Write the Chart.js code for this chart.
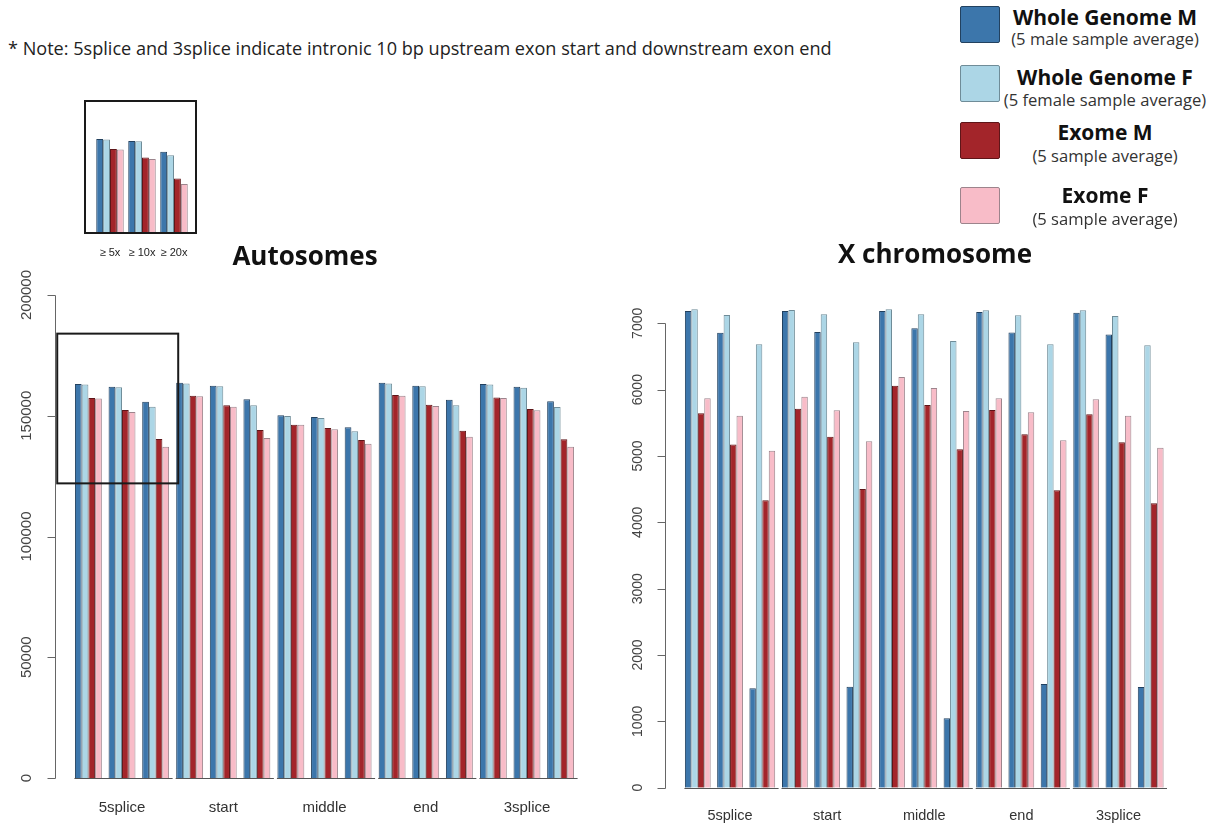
<!DOCTYPE html>
<html>
<head>
<meta charset="utf-8">
<script src="https://cdn.jsdelivr.net/npm/chart.js@4.4.1/dist/chart.umd.min.js"></script>
<style>
  html, body { margin: 0; padding: 0; }
  body { width: 1220px; height: 827px; background: #fff; position: relative; overflow: hidden;
         font-family: "Open Sans", "Noto Sans", sans-serif; }
  canvas { position: absolute; }
  .t { position: absolute; white-space: nowrap; transform: translate(-50%, -50%); }
  .note { position: absolute; left: 8px; top: 48px; transform: translateY(-50%); white-space: nowrap;
          font-size: 18.1px; color: #222; }
  .title { font-weight: 700; font-size: 26px; color: #111; }
  .lg { font-weight: 700; font-size: 21px; color: #111; }
  .ls { font-size: 16.6px; color: #333; }
  .sw { position: absolute; left: 960px; width: 38px; height: 35px; border: 1.5px solid #333; border-radius: 2px; }
</style>
</head>
<body>
<canvas id="inset" width="125" height="170" style="left:80px; top:96px;"></canvas>
<canvas id="auto" width="600" height="567" style="left:0px; top:260px;"></canvas>
<canvas id="xchr" width="620" height="567" style="left:600px; top:260px;"></canvas>

<div class="note">* Note: 5splice and 3splice indicate intronic 10 bp upstream exon start and downstream exon end</div>
<div class="t title" style="left:305px; top:255px;">Autosomes</div>
<div class="t title" style="left:935px; top:253px;">X chromosome</div>

<div id="legend"></div>

<script>
// Genomic regions along the x axis and the depth thresholds grouped inside each region
const regions = ['5splice', 'start', 'middle', 'end', '3splice'];
const depths = ['\u2265 5x', '\u2265 10x', '\u2265 20x'];

const seriesNames = ['Whole Genome M', 'Whole Genome F', 'Exome M', 'Exome F'];
const seriesNotes = ['(5 male sample average)', '(5 female sample average)', '(5 sample average)', '(5 sample average)'];
const seriesFill = ['#3c76ab', '#acd6e6', '#a3252a', '#f8bcc8'];
const seriesEdge = ['#22415f', '#6f8c98', '#5e1518', '#9c848c'];

// Covered positions, listed region by region (≥5x, ≥10x, ≥20x for each region)
const autoWholeGenomeM = [163150, 162000, 155800, 163700, 162450, 156800, 150200, 149500, 145200, 163700, 162450, 156650, 163150, 162000, 156000];
const autoWholeGenomeF = [162900, 161800, 153750, 163400, 162200, 154300, 149900, 149050, 143550, 163400, 162200, 154300, 162900, 161600, 153600];
const autoExomeM       = [157350, 152400, 140370, 158300, 154300, 144100, 146300, 144900, 139950, 158600, 154600, 143800, 157600, 152800, 140250];
const autoExomeF       = [157100, 151550, 137200, 158050, 153750, 140800, 146300, 144400, 138400, 158300, 154000, 141300, 157400, 152250, 137200];

const xWholeGenomeM = [7185, 6858, 1498, 7185, 6868, 1522, 7185, 6924, 1046, 7170, 6863, 1563, 7159, 6833, 1518];
const xWholeGenomeF = [7210, 7124, 6683, 7200, 7135, 6713, 7210, 7135, 6733, 7195, 7120, 6683, 7195, 7109, 6668];
const xExomeM       = [5643, 5175, 4331, 5712, 5290, 4502, 6059, 5768, 5100, 5692, 5326, 4482, 5628, 5206, 4286];
const xExomeF       = [5869, 5607, 5080, 5893, 5688, 5221, 6190, 6024, 5677, 5869, 5658, 5236, 5854, 5607, 5124];

const autoTicks = [0, 50000, 100000, 150000, 200000];
const xTicks = [0, 1000, 2000, 3000, 4000, 5000, 6000, 7000];

const axisFont = '"Liberation Sans", Arial, Helvetica, sans-serif';

// Legend on the right-hand side
(function buildLegend() {
  const host = document.getElementById('legend');
  const swTop = [6, 65, 122, 187];
  const nameY = [17, 77, 132, 195];
  const noteY = [38, 99, 155, 218];
  seriesNames.forEach((name, i) => {
    const sw = document.createElement('div');
    sw.className = 'sw';
    sw.style.top = swTop[i] + 'px';
    sw.style.background = seriesFill[i];
    sw.style.borderColor = seriesEdge[i];
    host.appendChild(sw);
    const n = document.createElement('div');
    n.className = 't lg';
    n.style.left = '1105px'; n.style.top = nameY[i] + 'px';
    n.textContent = name;
    host.appendChild(n);
    const s = document.createElement('div');
    s.className = 't ls';
    s.style.left = '1105px'; s.style.top = noteY[i] + 'px';
    s.textContent = seriesNotes[i];
    host.appendChild(s);
  });
})();

// Grouped bars: one block of four series per depth, with an empty slot between blocks
function regionDatasets(series) {
  const sets = [];
  depths.forEach((d, di) => {
    if (di > 0) {
      sets.push({ label: '', data: regions.map(() => null), backgroundColor: 'rgba(0,0,0,0)', borderWidth: 0 });
    }
    series.forEach((vals, si) => {
      sets.push({
        label: seriesNames[si] + ' ' + d,
        data: regions.map((_, ri) => vals[ri * 3 + di]),
        backgroundColor: seriesFill[si],
        borderColor: seriesEdge[si],
        borderWidth: 1
      });
    });
  });
  return sets;
}

// R-style decorations: detached y axis, per-region baselines, framed areas
const rStyle = {
  id: 'rStyle',
  afterDatasetsDraw(chart, args, opts) {
    const { ctx, chartArea, scales } = chart;
    const x = scales.x, y = scales.y;
    ctx.save();
    ctx.lineWidth = 1;
    if (opts.ticks) {
      const ax = Math.round(chartArea.left - opts.axisGap) + 0.5;
      const vals = opts.ticks;
      ctx.strokeStyle = '#666';
      ctx.beginPath();
      ctx.moveTo(ax, Math.round(y.getPixelForValue(vals[0])) + 0.5);
      ctx.lineTo(ax, Math.round(y.getPixelForValue(vals[vals.length - 1])) + 0.5);
      vals.forEach(v => {
        const py = Math.round(y.getPixelForValue(v)) + 0.5;
        ctx.moveTo(ax, py);
        ctx.lineTo(ax - opts.tickLen, py);
      });
      ctx.stroke();
    }
    if (opts.baseline) {
      const pitch = x.getPixelForValue(1) - x.getPixelForValue(0);
      const by = Math.round(y.getPixelForValue(0)) + 0.5;
      ctx.strokeStyle = '#555';
      ctx.beginPath();
      regions.forEach((_, i) => {
        const c = x.getPixelForValue(i);
        ctx.moveTo(c - pitch * 0.47, by);
        ctx.lineTo(c + pitch * 0.50, by);
      });
      ctx.stroke();
    }
    if (opts.zoomBox) {
      const b = opts.zoomBox;
      const pitch = x.getPixelForValue(1) - x.getPixelForValue(0);
      const c = x.getPixelForValue(b.region);
      const l = c - pitch * b.left, r = c + pitch * b.right;
      const t = y.getPixelForValue(b.high), bt = y.getPixelForValue(b.low);
      ctx.strokeStyle = '#1a1a1a';
      ctx.lineWidth = 2;
      ctx.strokeRect(l, t, r - l, bt - t);
    }
    if (opts.frame) {
      const f = opts.frame;
      ctx.strokeStyle = '#1a1a1a';
      ctx.lineWidth = 2;
      ctx.strokeRect(chartArea.left - f.left, chartArea.top, chartArea.width + f.left + f.right, chartArea.height);
    }
    ctx.restore();
  }
};

function mainChart(canvasId, series, cfg) {
  return new Chart(document.getElementById(canvasId), {
    type: 'bar',
    data: { labels: regions, datasets: regionDatasets(series) },
    plugins: [rStyle],
    options: {
      responsive: false,
      animation: false,
      events: [],
      layout: { padding: { top: cfg.padTop, right: cfg.padRight, left: 0, bottom: 0 } },
      datasets: { bar: { categoryPercentage: 0.93, barPercentage: 1.0, grouped: true } },
      scales: {
        x: {
          grid: { display: false, drawTicks: false },
          border: { display: false },
          ticks: { color: '#333', padding: cfg.xPad, autoSkip: false, maxRotation: 0,
                   font: { family: axisFont, size: cfg.xFont } },
          afterFit(s) { s.height = cfg.xHeight; }
        },
        y: {
          min: 0,
          max: cfg.yMax,
          grid: { display: false, drawTicks: false },
          border: { display: false },
          afterBuildTicks(s) { s.ticks = cfg.tickValues.map(v => ({ value: v })); },
          ticks: {
            autoSkip: false,
            minRotation: 90, maxRotation: 90,
            crossAlign: 'center',
            padding: cfg.yPad,
            color: '#444',
            font: { family: axisFont, size: cfg.yFont },
            callback: v => String(v)
          },
          afterFit(s) { s.width = cfg.yWidth; }
        }
      },
      plugins: {
        legend: { display: false },
        tooltip: { enabled: false },
        rStyle: cfg.deco
      }
    }
  });
}

// Autosomes
mainChart('auto', [autoWholeGenomeM, autoWholeGenomeF, autoExomeM, autoExomeF], {
  padTop: 35, padRight: 22.4, xHeight: 49, xPad: 21, xFont: 15,
  yMax: 200000, tickValues: autoTicks, yPad: 19.4, yFont: 15, yWidth: 71.4,
  deco: { ticks: autoTicks, axisGap: 16.4, tickLen: 8, baseline: true,
          zoomBox: { region: 0, left: 0.64, right: 0.555, low: 122000, high: 184000 } }
});

// X chromosome
mainChart('xchr', [xWholeGenomeM, xWholeGenomeF, xExomeM, xExomeF], {
  padTop: 43.4, padRight: 53, xHeight: 39.3, xPad: 19.5, xFont: 14.5,
  yMax: 7300, tickValues: xTicks, yPad: 27.4, yFont: 14, yWidth: 81.5,
  deco: { ticks: xTicks, axisGap: 17, tickLen: 8, baseline: true }
});

// Key panel: the 5splice autosome block, labelled by depth threshold
new Chart(document.getElementById('inset'), {
  type: 'bar',
  data: {
    labels: depths,
    datasets: [autoWholeGenomeM, autoWholeGenomeF, autoExomeM, autoExomeF].map((vals, si) => ({
      label: seriesNames[si],
      data: depths.map((_, di) => vals[di]),
      backgroundColor: seriesFill[si],
      borderColor: seriesEdge[si],
      borderWidth: 1
    }))
  },
  plugins: [rStyle],
  options: {
    responsive: false,
    animation: false,
    events: [],
    layout: { padding: { top: 5, right: 15, left: 14, bottom: 0 } },
    datasets: { bar: { categoryPercentage: 0.86, barPercentage: 1.0 } },
    scales: {
      x: {
        grid: { display: false, drawTicks: false },
        border: { display: false },
        ticks: { color: '#222', padding: 13, autoSkip: false, maxRotation: 0,
                 font: { family: axisFont, size: 11 } },
        afterFit(s) { s.height = 33; }
      },
      y: { display: false, min: 109000, max: 185000 }
    },
    plugins: {
      legend: { display: false },
      tooltip: { enabled: false },
      rStyle: { frame: { left: 9, right: 6 } }
    }
  }
});
</script>
</body>
</html>
